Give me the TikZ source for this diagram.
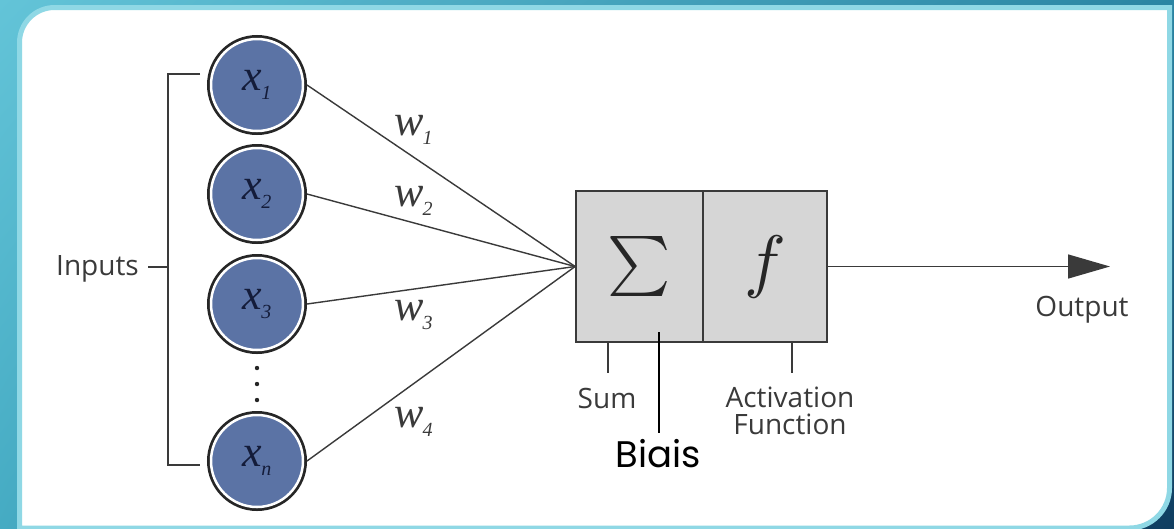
\documentclass[tikz,border=0pt]{standalone}
\usepackage{graphicx}
\usepackage{fontspec}
\setmainfont{Liberation Serif}
\setsansfont{Open Sans}
\newfontfamily\biaisfont{Poppins}
\usetikzlibrary{arrows.meta,shadings}
\definecolor{bgUL}{HTML}{63C4D8}
\definecolor{bgUR}{HTML}{2A85A3}
\definecolor{bgLL}{HTML}{45ABC3}
\definecolor{bgLR}{HTML}{0F3D60}
\definecolor{panelrim}{HTML}{8FD8E5}
\definecolor{nodeblue}{HTML}{5B73A5}
\definecolor{ringdark}{HTML}{262626}
\definecolor{ink}{HTML}{3A3A3A}
\definecolor{navy}{HTML}{141C3A}
\definecolor{boxgray}{HTML}{D6D6D6}
\tikzset{
  innode/.style={circle, minimum size=92pt, inner sep=0pt, outer sep=4pt,
    fill=nodeblue, draw=white, line width=2.5pt,
    preaction={draw=ringdark, line width=8pt}, text=navy},
  wire/.style={draw=ink, line width=1.4pt},
  wlabel/.style={anchor=base west, text=ink, inner sep=0pt},
  opbox/.style={rectangle, draw=ink, line width=1.8pt, fill=boxgray,
    minimum height=151pt, inner sep=0pt, text=ringdark},
  sanslabel/.style={text=ink, inner sep=0pt, font=\sffamily\fontsize{28}{27}\selectfont},
}
\newcommand{\xin}[1]{{\fontsize{44}{44}\selectfont\itshape x}\kern-1pt\raisebox{-9pt}{\fontsize{20}{20}\selectfont\itshape #1}}
\newcommand{\win}[1]{{\fontsize{44}{44}\selectfont\itshape w}\kern-1pt\raisebox{-9pt}{\fontsize{20}{20}\selectfont\itshape #1}}
\begin{document}
\begin{tikzpicture}[x=1pt,y=-1pt]
\useasboundingbox (0,0) rectangle (1174,528);
\shade[upper left=bgUL, upper right=bgUR, lower left=bgLL, lower right=bgLR] (0,0) rectangle (1174,528);
% panel
\path[fill=white, draw=panelrim, line width=5pt]
  (19.5,540) -- (19.5,42.5) .. controls (19.5,23.2) and (35.2,7.5) .. (54.5,7.5)
  -- (1169.5,7.5) -- (1169.5,488) .. controls (1169.5,510) and (1151.5,528) .. (1129.5,528)
  -- (19.5,528) -- cycle;

% input nodes
\node[innode] (x1) at (257,85) {\xin{1}};
\node[innode] (x2) at (257,194) {\xin{2}};
\node[innode] (x3) at (257,304) {\xin{3}};
\node[innode] (xn) at (257,461) {\xin{n}};
\fill[ringdark] (257,368) circle (2.2);
\fill[ringdark] (257,384) circle (2.2);
\fill[ringdark] (257,400) circle (2.2);

% bracket
\coordinate (btop) at (200,74);
\coordinate (bbot) at (200,465);
\coordinate (bmid) at (168,267);
\coordinate (tickend) at (148,267);
\draw[wire] (btop) -- (168,74) -- (168,465) -- (bbot);
\draw[wire] (bmid) -- (tickend);
\node[sanslabel, anchor=base east] (inputs) at (139,275) {Inputs};

% sum / activation box
\node[opbox, minimum width=127pt] (sum) at (639.5,266.5) {\scalebox{6}{$\sum$}};
\node[opbox, minimum width=124pt] (act) at (765,266.5) {\scalebox{7}{$f$}};

% weighted connections
\draw[wire] (x1.east) -- (sum.west);
\draw[wire] (x2.east) -- (sum.west);
\draw[wire] (x3.east) -- (sum.west);
\draw[wire] (xn.east) -- (sum.west);
\node[wlabel] (w1) at (394,135) {\win{1}};
\node[wlabel] (w2) at (394,206) {\win{2}};
\node[wlabel] (w3) at (394,320) {\win{3}};
\node[wlabel] (w4) at (394,427) {\win{4}};

% output
\coordinate (outtip) at (1110,266.5);
\draw[wire, -{Triangle[length=42pt,width=24pt]}] (act.east) -- (outtip);
\node[sanslabel, anchor=base] (output) at (1082,316) {Output};

% labels below the box
\coordinate (sumtop) at (608,342);
\coordinate (sumbot) at (608,373);
\draw[wire] (sumtop) -- (sumbot);
\node[sanslabel, anchor=base] (sumlabel) at (607,408) {Sum};
\coordinate (acttop) at (792,342);
\coordinate (actbot) at (792,373);
\draw[wire] (acttop) -- (actbot);
\node[sanslabel, anchor=base, align=center] (actlabel) at (790,434) {Activation\\Function};
\coordinate (biastop) at (659,332);
\coordinate (biasbot) at (659,433);
\draw[black, line width=2pt] (biastop) -- (biasbot);
\node[anchor=base, inner sep=0pt, font=\biaisfont\fontsize{37}{37}\selectfont] (biais) at (658,467) {Biais};
\end{tikzpicture}
\end{document}
